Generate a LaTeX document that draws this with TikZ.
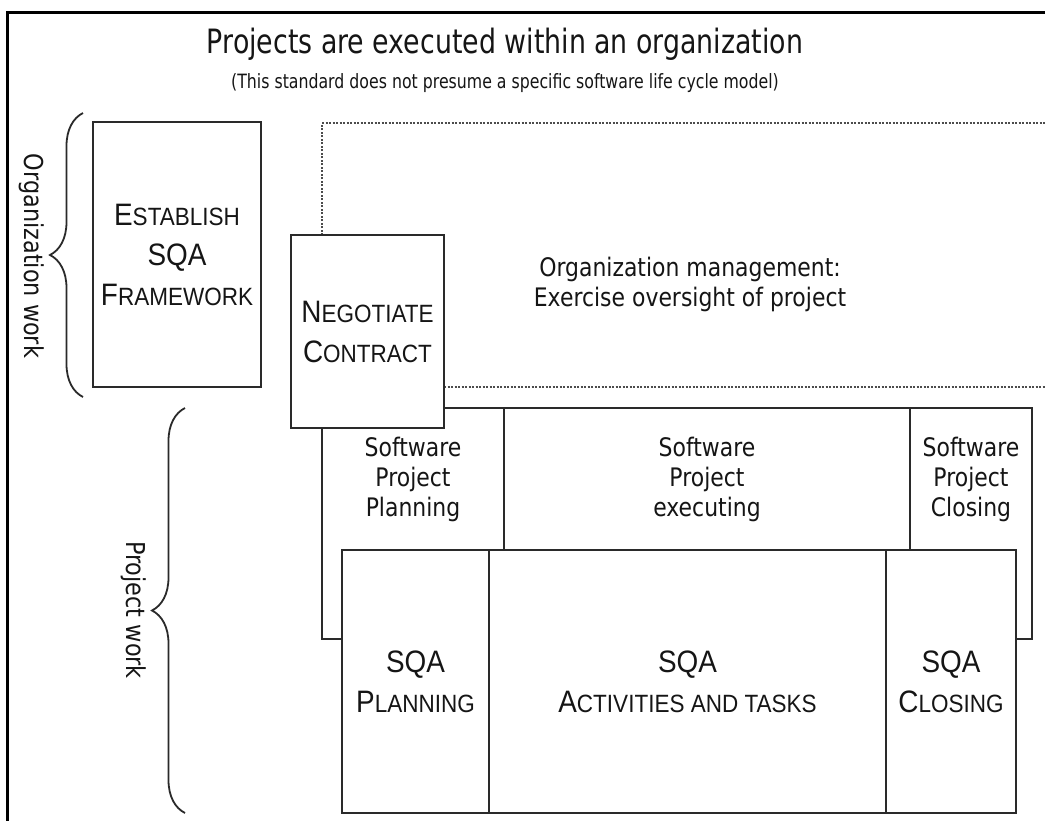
\documentclass[tikz,border=0pt]{standalone}
\usepackage{fontspec}
\setmainfont[FakeStretch=0.86]{DejaVu Sans}
\newfontfamily\titlefont[FakeStretch=0.8]{DejaVu Sans}
\newfontfamily\capsfont[FakeStretch=0.9]{Liberation Sans}
\usetikzlibrary{decorations.pathreplacing}
\newcommand\scw[2]{{\fontsize{31}{31}\selectfont #1}{\fontsize{25}{25}\selectfont #2}}
\definecolor{ink}{HTML}{151515}
\definecolor{edge}{HTML}{2A2A2A}
\tikzset{
  box/.style={draw=edge, line width=1.8pt, fill=white, inner sep=0pt, outer sep=0pt, anchor=north west,
    text=ink, align=center, font=\capsfont\fontsize{31}{40}\selectfont},
  plain/.style={text=ink, align=center, inner sep=0pt},
  lbl/.style={plain, font=\fontsize{25.5}{30}\selectfont},
  side/.style={plain, font=\fontsize{26}{30}\selectfont, rotate=-90},
  dotline/.style={draw=black!70, line width=2pt, dash pattern=on 2pt off 1.5pt},
  wall/.style={draw=edge, line width=1.8pt},
  bracestyle/.style={draw=edge, line width=1.8pt, decorate, decoration={brace, amplitude=33pt, aspect=0.5}},
}
\begin{document}
\begin{tikzpicture}[x=1pt,y=-1pt]
\useasboundingbox (0,0) rectangle (1045,820);
\fill[white] (0,0) rectangle (1045,820);
% outer frame
\draw[line width=3pt, black] (7,822) -- (7,12) -- (1047,12);
% titles
\node[plain, font=\titlefont\fontsize{33.5}{38}\selectfont] (title) at (505,44) {Projects are executed within an organization};
\node[plain, font=\titlefont\fontsize{19.7}{24}\selectfont] (subtitle) at (505,83) {(This standard does not presume a specific software life cycle model)};
% side labels and braces
\coordinate (ob1) at (83,397);
\coordinate (ob2) at (83,113);
\draw[bracestyle] (ob1) -- (ob2);
\node[side] (orgwork) at (32,256) {Organization work};
\coordinate (pb1) at (185,813);
\coordinate (pb2) at (185,408);
\draw[bracestyle] (pb1) -- (pb2);
\node[side] (projwork) at (134,610) {Project work};
% organization management (dotted)
\coordinate (d1) at (322,235);
\coordinate (d2) at (322,123);
\coordinate (d3) at (1047,123);
\coordinate (d4) at (444,387);
\coordinate (d5) at (1047,387);
\draw[dotline] (d1) -- (d2) -- (d3);
\draw[dotline] (d4) -- (d5);
\node[lbl] (orgtext) at (690,284) {Organization management:\\Exercise oversight of project};
% establish framework
\node[box, minimum width=168pt, minimum height=265pt] (estab) at (93,122) {\scw{E}{STABLISH}\\SQA\\\scw{F}{RAMEWORK}};
% software project box
\draw[wall] (322,408) rectangle (1032,639);
\draw[wall] (504,408) -- (504,550);
\draw[wall] (910,408) -- (910,550);
\node[lbl] (spplan) at (413,479) {Software\\Project\\Planning};
\node[lbl] (spexec) at (707,479) {Software\\Project\\executing};
\node[lbl] (spclose) at (971,479) {Software\\Project\\Closing};
% SQA boxes
\node[box, minimum width=147pt, minimum height=263pt] (sqaplan) at (342,550) {SQA\\\scw{P}{LANNING}};
\node[box, minimum width=397pt, minimum height=263pt] (sqaact) at (489,550) {SQA\\\scw{A}{CTIVITIES AND TASKS}};
\node[box, minimum width=130pt, minimum height=263pt] (sqaclose) at (886,550) {SQA\\\scw{C}{LOSING}};
% negotiate contract
\node[box, minimum width=153pt, minimum height=193pt] (nego) at (291,235) {\scw{N}{EGOTIATE}\\\scw{C}{ONTRACT}};
\end{tikzpicture}
\end{document}
